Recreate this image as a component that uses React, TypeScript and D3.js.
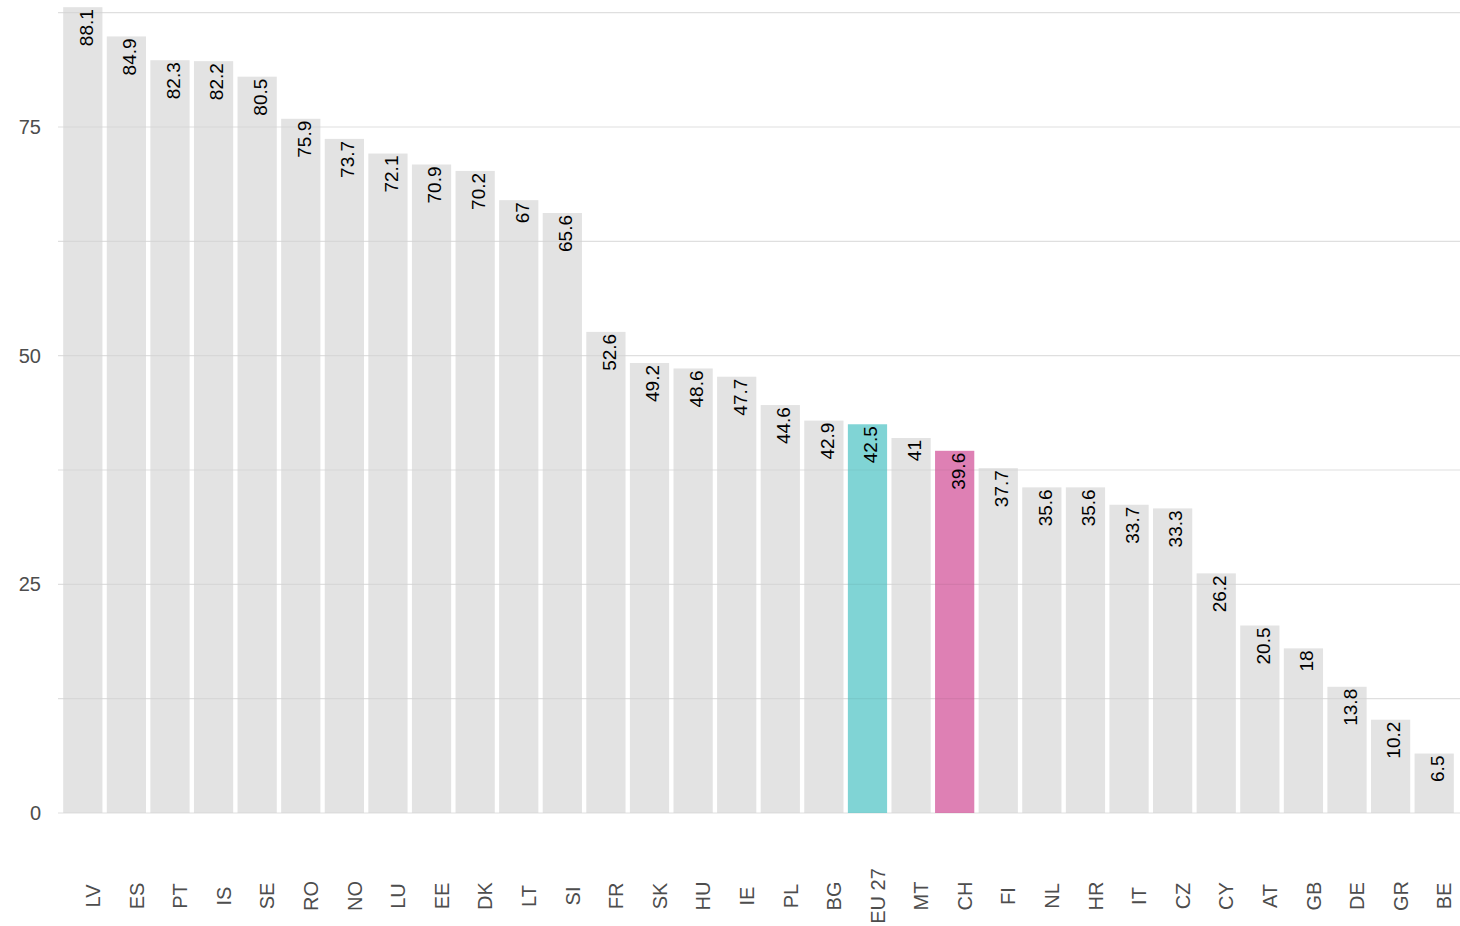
import * as d3 from "d3";
import React from "react";

const countries = [
  "LV", "ES", "PT", "IS", "SE", "RO", "NO", "LU", "EE", "DK", "LT", "SI",
  "FR", "SK", "HU", "IE", "PL", "BG", "EU 27", "MT", "CH", "FI", "NL", "HR",
  "IT", "CZ", "CY", "AT", "GB", "DE", "GR", "BE",
];
const values = [
  88.1, 84.9, 82.3, 82.2, 80.5, 75.9, 73.7, 72.1, 70.9, 70.2, 67, 65.6,
  52.6, 49.2, 48.6, 47.7, 44.6, 42.9, 42.5, 41, 39.6, 37.7, 35.6, 35.6,
  33.7, 33.3, 26.2, 20.5, 18, 13.8, 10.2, 6.5,
];
const majorTicks = [0, 25, 50, 75];
const minorTicks = [12.5, 37.5, 62.5, 87.5];
const highlight: Record<string, string> = { "EU 27": "#80d4d5", CH: "#de80b4" };

const W = 1460;
const H = 926;

export default function App() {
  const x = d3.scaleBand<string>().domain(countries).range([61, 1456]).paddingInner(0.1).paddingOuter(0.05);
  const y = d3.scaleLinear().domain([0, 75]).range([813, 127]);
  const font = "'Liberation Sans', Arial, sans-serif";
  const grid = majorTicks.concat(minorTicks);

  return (
    <svg width={W} height={H} style={{ position: "absolute", left: 0, top: 0 }} fontFamily={font}>
      <rect width={W} height={H} fill="#fff" />
      {grid.map((t) => (
        <line key={"g" + t} x1={58} x2={1460} y1={y(t)} y2={y(t)} stroke="#ebebeb" strokeWidth={1.2} />
      ))}
      {countries.map((c, i) => (
        <rect
          key={c}
          x={x(c)}
          y={y(values[i])}
          width={x.bandwidth()}
          height={y(0) - y(values[i])}
          fill={highlight[c] || "#e3e3e3"}
        />
      ))}
      {/* grid shows faintly through the bars */}
      {grid.map((t) => (
        <line key={"o" + t} x1={58} x2={1460} y1={y(t)} y2={y(t)} stroke="#000" strokeOpacity={0.05} strokeWidth={1.2} />
      ))}
      {majorTicks.map((t) => (
        <text key={"t" + t} x={41} y={y(t)} dy="0.35em" textAnchor="end" fontSize={20} fill="#4d4d4d">
          {t}
        </text>
      ))}
      {countries.map((c, i) => {
        const cx = (x(c) as number) + x.bandwidth() / 2;
        return (
          <g key={"l" + c}>
            <text
              transform={`translate(${cx + 3},${y(values[i]) + 2}) rotate(-90)`}
              textAnchor="end"
              dy="0.36em"
              fontSize={19}
              fill="#000"
            >
              {values[i]}
            </text>
            <text
              transform={`translate(${cx + 10},896) rotate(-90)`}
              textAnchor="middle"
              dy="0.36em"
              fontSize={20}
              fill="#4d4d4d"
            >
              {c}
            </text>
          </g>
        );
      })}
    </svg>
  );
}
